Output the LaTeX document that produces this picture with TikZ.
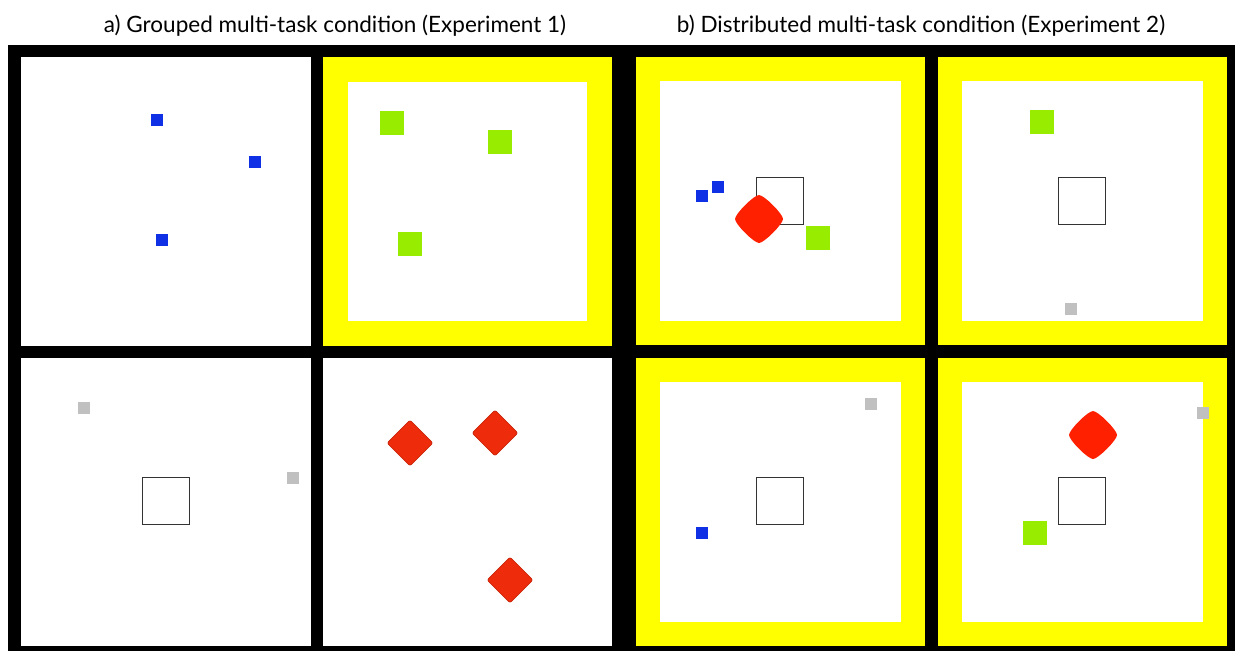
\documentclass[tikz,border=0pt]{standalone}
\usepackage{fontspec}
\setmainfont{Lato}
\usepackage{tikz}
\usetikzlibrary{shapes.geometric}
\definecolor{cueyellow}{RGB}{255,255,0}
\definecolor{cueblue}{RGB}{16,48,230}
\definecolor{cuegreen}{RGB}{152,236,0}
\definecolor{cuegray}{RGB}{192,192,192}
\definecolor{cuered}{RGB}{238,44,12}
\definecolor{blobred}{RGB}{255,32,0}

\begin{document}
\begin{tikzpicture}[x=1pt,y=-1pt,every node/.style={font=\fontsize{22.5}{27}\selectfont},
  bluesq/.style={rectangle,fill=cueblue,inner sep=0pt,minimum size=12pt},
  graysq/.style={rectangle,fill=cuegray,inner sep=0pt,minimum size=12pt},
  greensq/.style={rectangle,fill=cuegreen,inner sep=0pt,minimum size=24pt},
  reddia/.style={diamond,fill=cuered,draw=cuered!85!black,line width=0.8pt,inner sep=0pt,
                 minimum width=46pt,minimum height=46pt,rounded corners=2pt},
  target/.style={rectangle,draw=black!80,line width=1.2pt,inner sep=0pt,minimum size=47pt},
  blob/.pic={\fill[blobred] (0,-24) .. controls (5,-24) and (24,-5) .. (24,0)
                 .. controls (24,5) and (5,24) .. (0,24)
                 .. controls (-5,24) and (-24,5) .. (-24,0)
                 .. controls (-24,-5) and (-5,-24) .. cycle;}]
  \useasboundingbox (0,0) rectangle (1235,651);
  \node[anchor=base] (titleA) at (335,32) {a) Grouped multi-task condition (Experiment 1)};
  \node[anchor=base] (titleB) at (921,32) {b) Distributed multi-task condition (Experiment 2)};
  % frames
  \fill[black] (8,45) rectangle (1235,651);
  \fill[white] (21,57) rectangle (311,346);
  \fill[cueyellow] (323,57) rectangle (612,346);
  \fill[white] (348,82) rectangle (587,321);
  \fill[white] (21,358) rectangle (311,646);
  \fill[white] (323,358) rectangle (612,646);
  \foreach \x/\y in {636/57,938/57,636/358,938/358} {
    \fill[cueyellow] (\x,\y) rectangle ++(289,288);
    \fill[white] (\x+24,\y+24) rectangle ++(241,240);
  }
  % grouped: blue, green, gray, red
  \node[bluesq] (b1) at (157,120) {};
  \node[bluesq] (b2) at (255,162) {};
  \node[bluesq] (b3) at (162,240) {};
  \node[greensq] (g1) at (392,123) {};
  \node[greensq] (g2) at (500,142) {};
  \node[greensq] (g3) at (410,244) {};
  \node[graysq] (s1) at (84,408) {};
  \node[graysq] (s2) at (293,478) {};
  \node[target] (t1) at (166,501) {};
  \node[reddia] (r1) at (410,443) {};
  \node[reddia] (r2) at (495,433) {};
  \node[reddia] (r3) at (510,580) {};
  % distributed
  \node[bluesq] (b4) at (702,196) {};
  \node[bluesq] (b5) at (718,187) {};
  \node[target] (t2) at (780,201) {};
  \pic at (759,219) {blob};
  \node[greensq] (g4) at (818,238) {};
  \node[greensq] (g5) at (1042,122) {};
  \node[target] (t3) at (1082,201) {};
  \node[graysq] (s3) at (1071,309) {};
  \node[graysq] (s4) at (871,404) {};
  \node[target] (t4) at (780,501) {};
  \node[bluesq] (b6) at (702,533) {};
  \pic at (1093,435) {blob};
  \node[graysq] (s5) at (1203,413) {};
  \node[target] (t5) at (1082,501) {};
  \node[greensq] (g6) at (1035,533) {};
\end{tikzpicture}
\end{document}
